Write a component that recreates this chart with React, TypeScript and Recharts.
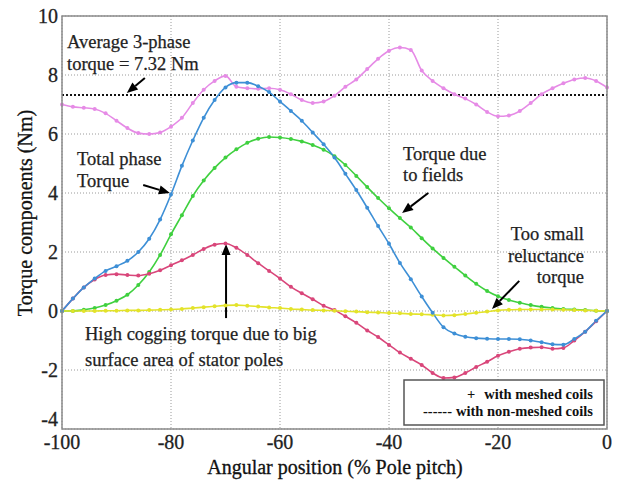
import React from "react";
import {
  LineChart,
  Line,
  XAxis,
  YAxis,
  CartesianGrid,
  ReferenceLine,
} from "recharts";

const positions = [
  -100, -98, -96, -94, -92, -90, -88, -86, -84, -82, -80, -78, -76, -74, -72, -70, -68,
  -66, -64, -62, -60, -58, -56, -54, -52, -50, -48, -46, -44, -42, -40, -38, -36, -34,
  -32, -30, -28, -26, -24, -22, -20, -18, -16, -14, -12, -10, -8, -6, -4, -2, 0,
];

const threePhase = [
  7.0, 6.92, 6.89, 6.85, 6.7, 6.45, 6.2, 6.03, 6.0, 6.05, 6.25, 6.55, 7.05, 7.5, 7.8, 7.97, 7.6,
  7.55, 7.53, 7.55, 7.5, 7.35, 7.15, 7.05, 7.1, 7.3, 7.6, 7.85, 8.2, 8.55, 8.82, 8.93, 8.85, 8.15,
  7.8, 7.55, 7.35, 7.2, 7.0, 6.75, 6.6, 6.63, 6.78, 7.05, 7.35, 7.55, 7.72, 7.85, 7.9, 7.8, 7.58,
];

const totalPhase = [
  0, 0.42, 0.8, 1.1, 1.36, 1.52, 1.7, 2.0, 2.45, 3.1, 3.95, 4.92, 5.78, 6.55, 7.15, 7.58, 7.74,
  7.74, 7.62, 7.42, 7.1, 6.78, 6.45, 6.05, 5.65, 5.2, 4.65, 4.1, 3.5, 2.88, 2.28, 1.63, 1.08, 0.49,
  -0.06, -0.55, -0.76, -0.87, -0.92, -0.94, -0.95, -0.95, -0.96, -1.0, -1.06, -1.13, -1.14, -0.95, -0.7, -0.33, 0,
];

const fieldTorque = [
  0, 0, 0.04, 0.1, 0.2, 0.35, 0.55, 0.88, 1.32, 1.9, 2.6, 3.25, 3.9, 4.42, 4.85, 5.2, 5.48,
  5.7, 5.84, 5.9, 5.88, 5.83, 5.75, 5.63, 5.47, 5.25, 4.95, 4.58, 4.2, 3.83, 3.48, 3.15, 2.83, 2.47,
  2.12, 1.8, 1.5, 1.2, 0.92, 0.68, 0.5, 0.37, 0.28, 0.2, 0.14, 0.1, 0.07, 0.05, 0.03, 0.01, 0,
];

const coggingTorque = [
  0, 0.42, 0.8, 1.07, 1.22, 1.25, 1.22, 1.2, 1.26, 1.38, 1.55, 1.72, 1.9, 2.1, 2.25, 2.29, 2.14,
  1.9, 1.62, 1.36, 1.1, 0.82, 0.6, 0.4, 0.18, 0.03, -0.18, -0.4, -0.66, -0.88, -1.15, -1.41, -1.62, -1.83,
  -2.1, -2.27, -2.25, -2.1, -1.9, -1.72, -1.52, -1.38, -1.28, -1.24, -1.23, -1.28, -1.25, -1.0, -0.7, -0.35, 0,
];

const reluctanceTorque = [
  0, 0, 0, 0, 0.01, 0.01, 0.02, 0.02, 0.03, 0.04, 0.05, 0.07, 0.1, 0.13, 0.16, 0.19, 0.2,
  0.18, 0.15, 0.12, 0.1, 0.07, 0.05, 0.03, 0.02, 0.01, -0.01, -0.02, -0.04, -0.05, -0.07, -0.08, -0.1, -0.11,
  -0.13, -0.15, -0.14, -0.1, -0.06, -0.02, 0.02, 0.04, 0.05, 0.05, 0.05, 0.05, 0.04, 0.03, 0.02, 0.01, 0,
];

const averageTorque = 7.32;
const xTicks = [-100, -80, -60, -40, -20, 0];
const yTicks = [-4, -2, 0, 2, 4, 6, 8, 10];

// arrows as [fromX, fromY, toX, toY] in data units
const arrows = [
  [-84.8, 7.9, -88.1, 7.39],
  [-85.1, 4.27, -80.2, 4.0],
  [-32.8, 4.0, -37.6, 3.32],
  [-16.1, 1.02, -21.1, 0.07],
  [-69.9, -0.24, -69.9, 2.27],
];

const data = positions.map((x, i) => ({
  x,
  threePhase: threePhase[i],
  totalPhase: totalPhase[i],
  fieldTorque: fieldTorque[i],
  coggingTorque: coggingTorque[i],
  reluctanceTorque: reluctanceTorque[i],
}));

const FONT = "Liberation Serif, DejaVu Serif, serif";

const ArrowShape = (props: any) => {
  const { x1, y1, x2, y2 } = props;
  if ([x1, y1, x2, y2].some((v) => v == null || isNaN(v))) return null;
  const ang = Math.atan2(y2 - y1, x2 - x1);
  const len = 11;
  const w = 4.5;
  const bx = x2 - len * Math.cos(ang);
  const by = y2 - len * Math.sin(ang);
  const px = -Math.sin(ang) * w;
  const py = Math.cos(ang) * w;
  return (
    <g>
      <line x1={x1} y1={y1} x2={bx} y2={by} stroke="#000" strokeWidth={2} />
      <polygon
        points={`${x2},${y2} ${bx + px},${by + py} ${bx - px},${by - py}`}
        fill="#000"
      />
    </g>
  );
};

const YTick = (props: any) => {
  const { x, y, payload } = props;
  // the bottom label sits a little higher so it clears the -100 tick
  const lift = payload.value === -4 ? -10 : 0;
  return (
    <text
      x={x}
      y={y + lift}
      dy="0.35em"
      textAnchor="end"
      style={{ fontFamily: FONT, fontSize: 20 }}
      fill="#222"
      stroke="#222"
      strokeWidth={0.3}
    >
      {payload.value}
    </text>
  );
};

const series = [
  { key: "threePhase", color: "#e68be6" },
  { key: "fieldTorque", color: "#3fd03f" },
  { key: "coggingTorque", color: "#d9467a" },
  { key: "reluctanceTorque", color: "#e3e32a" },
  { key: "totalPhase", color: "#3d8fd6" },
];

export default function App() {
  const txt = {
    fill: "#222",
    stroke: "#222",
    strokeWidth: 0.25,
    style: { fontFamily: FONT, fontSize: 18.5 },
  };
  const label = {
    fill: "#111",
    stroke: "#111",
    strokeWidth: 0.3,
    style: { fontFamily: FONT, fontSize: 20 },
  };
  const legendTxt = { fill: "#111", style: { fontFamily: FONT, fontSize: 14.5, fontWeight: 700 } };
  return (
    <div style={{ position: "absolute", left: 0, top: 0, width: 623, height: 482, background: "#fff" }}>
      <LineChart
        width={623}
        height={482}
        data={data}
        margin={{ top: 16, right: 16, bottom: 0, left: 0 }}
      >
        <CartesianGrid stroke="#9a9a9a" strokeDasharray="1 2" />
        <XAxis
          dataKey="x"
          type="number"
          domain={[-100, 0]}
          ticks={xTicks}
          height={53}
          tickSize={0}
          tickMargin={6}
          tickLine={false}
          axisLine={false}
          tick={{ style: { fontFamily: FONT, fontSize: 20 }, fill: "#222", stroke: "#222", strokeWidth: 0.3 }}
        />
        <YAxis
          type="number"
          domain={[-4, 10]}
          ticks={yTicks}
          width={62}
          tickSize={0}
          tickMargin={4}
          tickLine={false}
          axisLine={false}
          tick={YTick}
        />
        <ReferenceLine
          y={averageTorque}
          stroke="#111"
          strokeWidth={2}
          strokeDasharray="2 2"
        />
        {series.map((s) => (
          <Line
            key={s.key}
            dataKey={s.key}
            type="monotone"
            stroke={s.color}
            strokeWidth={1.6}
            dot={{ r: 2, fill: s.color, stroke: s.color, strokeWidth: 0 }}
            isAnimationActive={false}
          />
        ))}
        {arrows.map((a, i) => (
          <ReferenceLine
            key={i}
            segment={[
              { x: a[0], y: a[1] },
              { x: a[2], y: a[3] },
            ]}
            shape={ArrowShape}
            ifOverflow="visible"
          />
        ))}
      </LineChart>
      <svg
        width={623}
        height={482}
        style={{ position: "absolute", left: 0, top: 0, pointerEvents: "none" }}
      >
        <rect x={62} y={16} width={545} height={413} fill="none" stroke="#8a8a8a" strokeWidth={1.5} />
        <text {...txt} x={67} y={48}>Average  3-phase</text>
        <text {...txt} x={67} y={70}>torque = 7.32 Nm</text>
        <text {...txt} x={77} y={165}>Total phase</text>
        <text {...txt} x={77} y={187}>Torque</text>
        <text {...txt} x={403} y={160}>Torque due</text>
        <text {...txt} x={403} y={181}>to fields</text>
        <text {...txt} x={584} y={240} textAnchor="end">Too small</text>
        <text {...txt} x={584} y={262} textAnchor="end">reluctance</text>
        <text {...txt} x={584} y={283} textAnchor="end">torque</text>
        <text {...txt} x={85} y={340}>High cogging  torque due to big</text>
        <text {...txt} x={85} y={366}>surface area of stator poles</text>
        <rect x={404} y={380} width={200} height={45} fill="#fff" stroke="#555" strokeWidth={1.5} />
        <text {...legendTxt} x={467} y={399}>+</text>
        <text {...legendTxt} x={593} y={399} textAnchor="end">with meshed coils</text>
        <text {...legendTxt} x={423} y={416}>------</text>
        <text {...legendTxt} x={593} y={416} textAnchor="end">with non-meshed coils</text>
        <text {...label} x={335} y={474} textAnchor="middle">
          Angular position (% Pole pitch)
        </text>
        <text {...label} x={0} y={0} textAnchor="middle" transform="translate(32,213) rotate(-90)">
          Torque components  (Nm)
        </text>
      </svg>
    </div>
  );
}
